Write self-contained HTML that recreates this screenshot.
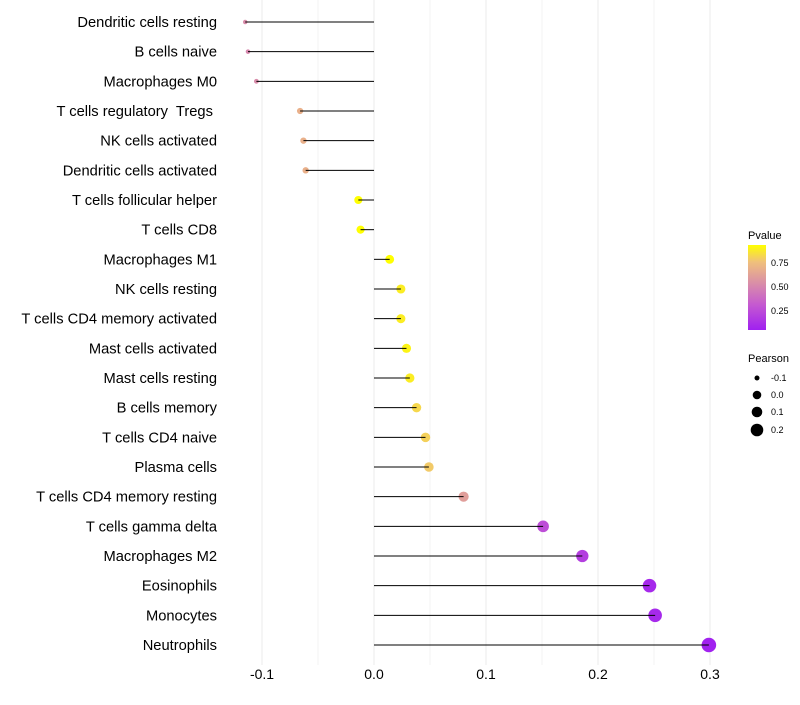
<!DOCTYPE html>
<html><head><meta charset="utf-8"><style>
body{margin:0;background:#fff;font-family:"Liberation Sans",sans-serif}
text{white-space:pre}
</style></head><body>
<svg width="800" height="700" xmlns="http://www.w3.org/2000/svg">
<defs><linearGradient id="pg" x1="0" y1="1" x2="0" y2="0">
<stop offset="0" stop-color="#a020f0"/><stop offset="0.3" stop-color="#c55ad0"/><stop offset="0.55" stop-color="#d98ea8"/><stop offset="0.8" stop-color="#f0c07c"/><stop offset="1" stop-color="#ffff00"/>
</linearGradient></defs>
<g id="grid"></g><g id="marks"></g><g id="labels"></g><g id="xt"></g>
<g>
<text x="748" y="239" font-size="11">Pvalue</text>
<rect x="748" y="245" width="18" height="85" fill="url(#pg)"/>
<text x="771" y="266" font-size="9">0.75</text>
<text x="771" y="290" font-size="9">0.50</text>
<text x="771" y="314" font-size="9">0.25</text>
</g>
<g>
<text x="748" y="362" font-size="11">Pearson</text>
<circle cx="757" cy="378" r="2.5"/><text x="771" y="381" font-size="9">-0.1</text>
<circle cx="757" cy="395" r="4.3"/><text x="771" y="398" font-size="9">0.0</text>
<circle cx="757" cy="412" r="5.3"/><text x="771" y="415" font-size="9">0.1</text>
<circle cx="757" cy="430" r="6.3"/><text x="771" y="433" font-size="9">0.2</text>
</g>
</svg>
<script>
const categories=["Dendritic cells resting","B cells naive","Macrophages M0","T cells regulatory  Tregs ","NK cells activated","Dendritic cells activated","T cells follicular helper","T cells CD8","Macrophages M1","NK cells resting","T cells CD4 memory activated","Mast cells activated","Mast cells resting","B cells memory","T cells CD4 naive","Plasma cells","T cells CD4 memory resting","T cells gamma delta","Macrophages M2","Eosinophils","Monocytes","Neutrophils"];
const pearson=[-0.115,-0.1125,-0.105,-0.066,-0.063,-0.061,-0.014,-0.012,0.014,0.024,0.024,0.029,0.032,0.038,0.046,0.049,0.080,0.151,0.186,0.246,0.251,0.299];
const pvalue=[0.52,0.5,0.52,0.68,0.68,0.68,0.95,0.95,0.93,0.88,0.88,0.9,0.88,0.82,0.8,0.78,0.6,0.25,0.18,0.08,0.08,0.05];
const xticks=[-0.1,0,0.1,0.2,0.3];
const xtickLabels=["-0.1","0.0","0.1","0.2","0.3"];
const NS="http://www.w3.org/2000/svg";
const X=v=>374+v*1120;
const Y=i=>22+i*(623/21);
function mk(t,a,p){const e=document.createElementNS(NS,t);for(const k in a)e.setAttribute(k,a[k]);document.getElementById(p).appendChild(e);return e;}
const stops=[[0,[160,32,240]],[0.3,[197,90,208]],[0.55,[217,142,168]],[0.8,[240,192,124]],[1,[255,255,0]]];
function col(p){let t=(p-0.04)/0.89;t=Math.max(0,Math.min(1,t));for(let i=1;i<stops.length;i++){if(t<=stops[i][0]){const a=stops[i-1],b=stops[i],f=(t-a[0])/(b[0]-a[0]);return "rgb("+a[1].map((c,j)=>Math.round(c+(b[1][j]-c)*f)).join(",")+")";}}return "rgb(255,255,0)";}
function rad(v){return v<0?Math.max(1.5,4.3+v*18):4.3+v*10;}
for(let v=-0.1;v<=0.301;v+=0.05){const g=mk("line",{x1:X(v),x2:X(v),y1:0,y2:665,stroke:"#ebebeb","stroke-width":Math.abs(Math.round(v*20)%2)?0.6:1},"grid");

}
xticks.forEach((v,i)=>{const t=mk("text",{x:X(v),y:679,"font-size":14,"text-anchor":"middle"},"xt");t.textContent=xtickLabels[i];

});
categories.forEach((c,i)=>{const y=Y(i);
const t=mk("text",{x:217,y:y+5,"font-size":14.7,"text-anchor":"end"},"labels");t.textContent=c;


const d=mk("circle",{cx:X(pearson[i]),cy:y,r:rad(pearson[i]),fill:col(pvalue[i])},"marks");


const l=mk("line",{x1:X(0),x2:X(pearson[i]),y1:y,y2:y,stroke:"#000","stroke-width":1},"marks");


});
</script>
</body></html>
